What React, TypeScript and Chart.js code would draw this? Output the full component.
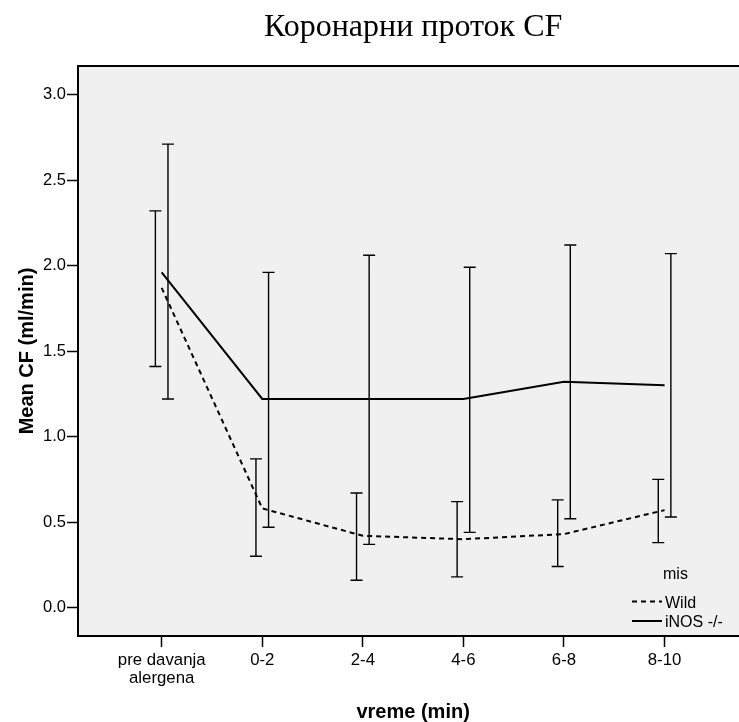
import { useEffect, useRef } from "react";
import { Chart, registerables } from "chart.js";

Chart.register(...registerables);

// Coronary flow (CF) by time interval, two mouse strains
const categories: (string | string[])[] = [["pre davanja", "alergena"], "0-2", "2-4", "4-6", "6-8", "8-10"];

const wildMean = [1.87, 0.58, 0.42, 0.4, 0.43, 0.57];
const wildLow = [1.41, 0.3, 0.16, 0.18, 0.24, 0.38];
const wildHigh = [2.32, 0.87, 0.67, 0.62, 0.63, 0.75];

const inosMean = [1.96, 1.22, 1.22, 1.22, 1.32, 1.3];
const inosLow = [1.22, 0.47, 0.37, 0.44, 0.52, 0.53];
const inosHigh = [2.71, 1.96, 2.06, 1.99, 2.12, 2.07];

const yTicks = [0, 0.5, 1, 1.5, 2, 2.5, 3];

const chartTitle = "Коронарни проток CF";
const xTitle = "vreme (min)";
const yTitle = "Mean CF (ml/min)";
const legendTitle = "mis";
const seriesNames = ["Wild", "iNOS -/-"];

const SANS = "'Liberation Sans', Arial, sans-serif";
const SERIF = "'Liberation Serif', 'Times New Roman', serif";

const W = 739;
const H = 722;
const BAR_SHIFT = 6.3; // px offset of each group's error bar from the category centre
const CAP = 6; // half width of error bar caps

const toPoints = (arr: number[]) => arr.map((y, i) => ({ x: i, y }));

function drawErrorBars(chart: any, lows: number[], highs: number[], shift: number) {
  const { ctx, scales } = chart;
  const xs = scales.x;
  const ys = scales.y;
  ctx.save();
  ctx.strokeStyle = "#000";
  ctx.lineWidth = 1.4;
  ctx.beginPath();
  for (let i = 0; i < lows.length; i++) {
    const x = xs.getPixelForValue(i) + shift;
    const yl = ys.getPixelForValue(lows[i]);
    const yh = ys.getPixelForValue(highs[i]);
    ctx.moveTo(x, yh);
    ctx.lineTo(x, yl);
    ctx.moveTo(x - CAP, yh);
    ctx.lineTo(x + CAP, yh);
    ctx.moveTo(x - CAP, yl);
    ctx.lineTo(x + CAP, yl);
  }
  ctx.stroke();
  ctx.restore();
}

const decorPlugin = {
  id: "decor",
  beforeDraw(chart: any) {
    const { ctx, chartArea: a } = chart;
    ctx.save();
    ctx.fillStyle = "#f0f0f0";
    ctx.fillRect(a.left, a.top, a.right - a.left, a.bottom - a.top);
    ctx.restore();
  },
  afterDatasetsDraw(chart: any) {
    drawErrorBars(chart, wildLow, wildHigh, -BAR_SHIFT);
    drawErrorBars(chart, inosLow, inosHigh, BAR_SHIFT);
  },
  afterDraw(chart: any) {
    const { ctx, chartArea: a, scales } = chart;
    const cx = scales.x.getPixelForValue((categories.length - 1) / 2);
    ctx.save();
    // frame
    ctx.strokeStyle = "#000";
    ctx.lineWidth = 2;
    ctx.beginPath();
    ctx.moveTo(a.right, a.top);
    ctx.lineTo(a.left, a.top);
    ctx.lineTo(a.left, a.bottom);
    ctx.lineTo(a.right, a.bottom);
    ctx.stroke();

    // chart title
    ctx.fillStyle = "#000";
    ctx.textAlign = "center";
    ctx.textBaseline = "alphabetic";
    ctx.font = `32px ${SERIF}`;
    ctx.fillText(chartTitle, cx, 36);

    // axis titles
    ctx.font = `bold 20px ${SANS}`;
    ctx.fillText(xTitle, cx, 718);
    ctx.save();
    ctx.translate(32.5, (a.top + a.bottom) / 2);
    ctx.rotate(-Math.PI / 2);
    ctx.fillText(yTitle, 0, 0);
    ctx.restore();

    // legend
    ctx.font = `16px ${SANS}`;
    ctx.textAlign = "left";
    ctx.fillText(legendTitle, 663, a.bottom - 57);
    ctx.fillText(seriesNames[0], 665, a.bottom - 28);
    ctx.fillText(seriesNames[1], 665, a.bottom - 9);
    ctx.lineWidth = 2;
    ctx.setLineDash([5, 4]);
    ctx.beginPath();
    ctx.moveTo(632, a.bottom - 34.5);
    ctx.lineTo(662, a.bottom - 34.5);
    ctx.stroke();
    ctx.setLineDash([]);
    ctx.beginPath();
    ctx.moveTo(632, a.bottom - 15);
    ctx.lineTo(662, a.bottom - 15);
    ctx.stroke();
    ctx.restore();
  },
};

export default function App() {
  const ref = useRef<HTMLCanvasElement | null>(null);

  useEffect(() => {
    document.body.style.margin = "0";
    const canvas = ref.current;
    if (!canvas) return;
    const chart = new Chart(canvas, {
      type: "line",
      data: {
        datasets: [
          {
            label: seriesNames[0],
            data: toPoints(wildMean),
            borderColor: "#000",
            borderWidth: 2,
            borderDash: [5, 4],
            pointRadius: 0,
            tension: 0,
            fill: false,
          },
          {
            label: seriesNames[1],
            data: toPoints(inosMean),
            borderColor: "#000",
            borderWidth: 2,
            pointRadius: 0,
            tension: 0,
            fill: false,
          },
        ],
      },
      options: {
        responsive: false,
        animation: false,
        devicePixelRatio: 1,
        layout: { padding: { top: 66, left: 0, right: 0, bottom: 0 } },
        plugins: {
          legend: { display: false },
          title: { display: false },
          tooltip: { enabled: false },
        },
        scales: {
          x: {
            type: "linear",
            min: -0.832,
            max: 5.74,
            afterBuildTicks: (s: any) => {
              s.ticks = categories.map((_, i) => ({ value: i }));
            },
            afterFit: (s: any) => {
              s.height = 86;
            },
            border: { display: false },
            grid: {
              drawOnChartArea: false,
              drawTicks: true,
              tickLength: 11,
              tickWidth: 1.5,
              tickColor: "#000",
            },
            ticks: {
              autoSkip: false,
              maxRotation: 0,
              minRotation: 0,
              padding: 5,
              color: "#000",
              font: { family: SANS, size: 16.8, lineHeight: 1.05 },
              callback: (v: any) => categories[Math.round(Number(v))] as any,
            },
          },
          y: {
            type: "linear",
            min: -0.166,
            max: 3.167,
            afterBuildTicks: (s: any) => {
              s.ticks = yTicks.map((v) => ({ value: v }));
            },
            afterFit: (s: any) => {
              s.width = 78;
            },
            border: { display: false },
            grid: {
              drawOnChartArea: false,
              drawTicks: true,
              tickLength: 11,
              tickWidth: 1.5,
              tickColor: "#000",
            },
            ticks: {
              padding: 1,
              color: "#000",
              font: { family: SANS, size: 16.5 },
              callback: (v: any) => Number(v).toFixed(1),
            },
          },
        },
      },
      plugins: [decorPlugin],
    });
    return () => chart.destroy();
  }, []);

  return (
    <div style={{ width: W, height: H, overflow: "hidden", background: "#fff" }}>
      <canvas ref={ref} width={W} height={H} style={{ display: "block", width: W, height: H }} />
    </div>
  );
}
